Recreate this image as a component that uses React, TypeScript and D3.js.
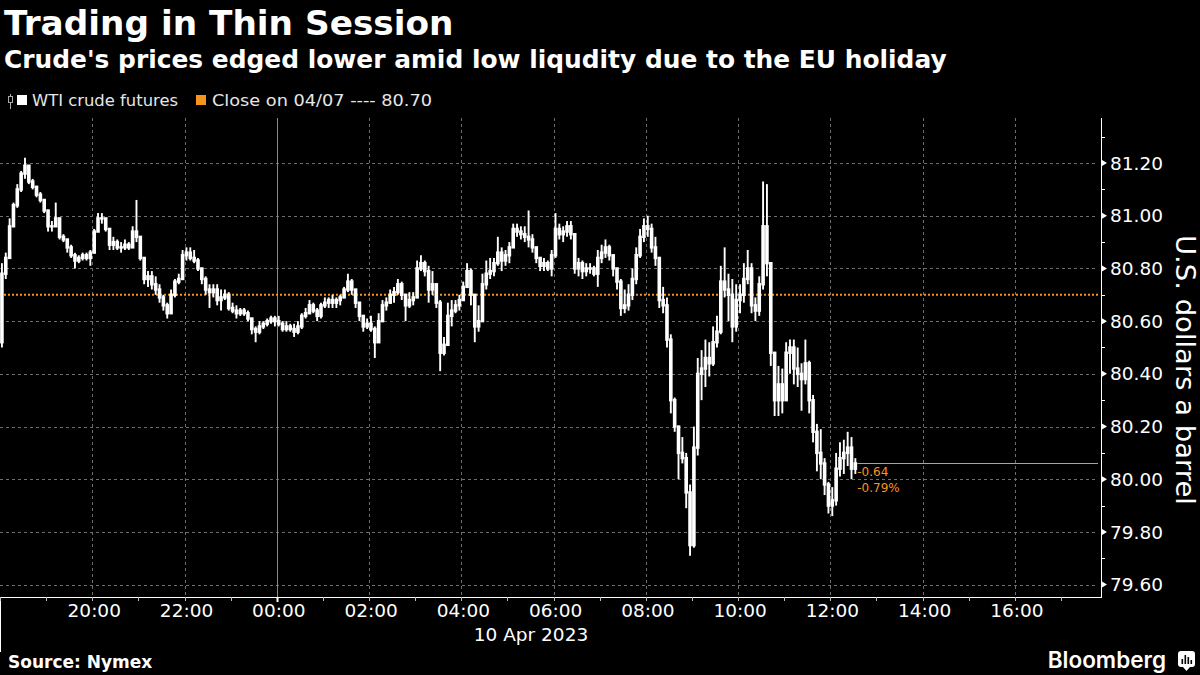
import React from 'react';
import * as d3 from 'd3';

// 5-minute bars of WTI crude futures, starting 9 Apr 2023 18:00
const closes = [
  80.78, 80.84, 80.96, 81.04, 81.10, 81.16, 81.19, 81.13, 81.11, 81.08,
  81.06, 81.02, 80.96, 80.96, 80.99, 80.92, 80.91, 80.88, 80.85, 80.83,
  80.84, 80.85, 80.84, 80.86, 80.94, 80.99, 80.99, 80.95, 80.89, 80.90,
  80.88, 80.88, 80.89, 80.88, 80.94, 80.92, 80.84, 80.76, 80.77, 80.74,
  80.72, 80.69, 80.66, 80.63, 80.70, 80.75, 80.76, 80.85, 80.86, 80.84,
  80.83, 80.80, 80.76, 80.72, 80.71, 80.72, 80.68, 80.69, 80.70, 80.65,
  80.64, 80.63, 80.64, 80.63, 80.61, 80.57, 80.56, 80.58, 80.59, 80.60,
  80.61, 80.60, 80.59, 80.57, 80.58, 80.57, 80.56, 80.58, 80.62, 80.63,
  80.66, 80.64, 80.62, 80.66, 80.67, 80.68, 80.67, 80.68, 80.69, 80.72,
  80.75, 80.72, 80.67, 80.62, 80.58, 80.59, 80.57, 80.52, 80.60, 80.66,
  80.67, 80.70, 80.71, 80.74, 80.70, 80.66, 80.68, 80.69, 80.80, 80.82,
  80.79, 80.72, 80.74, 80.67, 80.48, 80.51, 80.62, 80.64, 80.66, 80.68,
  80.73, 80.79, 80.70, 80.58, 80.60, 80.74, 80.78, 80.79, 80.82, 80.86,
  80.83, 80.85, 80.88, 80.95, 80.94, 80.93, 80.92, 80.91, 80.88, 80.84,
  80.81, 80.82, 80.80, 80.85, 80.95, 80.93, 80.94, 80.96, 80.93, 80.80,
  80.82, 80.79, 80.80, 80.80, 80.78, 80.84, 80.86, 80.88, 80.85, 80.80,
  80.75, 80.65, 80.66, 80.70, 80.76, 80.85, 80.92, 80.96, 80.95, 80.88,
  80.84, 80.68, 80.66, 80.53, 80.30, 80.20, 80.10, 80.08, 79.95, 79.75,
  80.12, 80.40, 80.42, 80.46, 80.44, 80.52, 80.56, 80.75, 80.72, 80.70,
  80.58, 80.68, 80.70, 80.76, 80.80, 80.66, 80.64, 80.74, 80.96, 80.82,
  80.48, 80.30, 80.36, 80.30, 80.48, 80.50, 80.42, 80.40, 80.38, 80.44,
  80.30, 80.18, 80.10, 80.06, 79.98, 79.90, 79.92, 80.04, 80.08, 80.10,
  80.12, 80.04, 80.06,
];

const highs = [
  80.82, 80.86, 80.99, 81.05, 81.12, 81.17, 81.22, 81.19, 81.14, 81.11,
  81.09, 81.06, 81.02, 80.98, 81.05, 80.99, 80.93, 80.91, 80.89, 80.86,
  80.85, 80.86, 80.86, 80.87, 80.95, 81.01, 81.01, 80.99, 80.95, 80.92,
  80.91, 80.90, 80.91, 80.90, 80.96, 81.06, 80.92, 80.84, 80.79, 80.79,
  80.77, 80.74, 80.70, 80.67, 80.72, 80.76, 80.78, 80.87, 80.88, 80.88,
  80.87, 80.84, 80.80, 80.77, 80.74, 80.74, 80.74, 80.72, 80.72, 80.71,
  80.67, 80.66, 80.65, 80.65, 80.64, 80.61, 80.58, 80.60, 80.60, 80.61,
  80.62, 80.62, 80.62, 80.60, 80.60, 80.59, 80.59, 80.60, 80.63, 80.65,
  80.68, 80.67, 80.65, 80.67, 80.69, 80.69, 80.70, 80.69, 80.70, 80.73,
  80.78, 80.76, 80.72, 80.67, 80.62, 80.61, 80.62, 80.58, 80.63, 80.68,
  80.69, 80.72, 80.73, 80.76, 80.75, 80.70, 80.71, 80.71, 80.83, 80.85,
  80.83, 80.81, 80.79, 80.74, 80.68, 80.54, 80.67, 80.68, 80.68, 80.70,
  80.75, 80.82, 80.80, 80.70, 80.66, 80.78, 80.83, 80.84, 80.84, 80.92,
  80.88, 80.87, 80.90, 80.97, 80.97, 80.96, 80.96, 81.02, 80.93, 80.88,
  80.84, 80.84, 80.83, 80.87, 81.01, 80.97, 80.96, 80.98, 80.98, 80.93,
  80.84, 80.83, 80.82, 80.82, 80.81, 80.87, 80.89, 80.91, 80.89, 80.85,
  80.80, 80.76, 80.72, 80.74, 80.80, 80.88, 80.95, 80.99, 81.00, 80.97,
  80.92, 80.84, 80.73, 80.69, 80.55, 80.31, 80.18, 80.16, 80.10, 79.98,
  80.20, 80.46, 80.49, 80.53, 80.52, 80.58, 80.62, 80.81, 80.88, 80.78,
  80.76, 80.74, 80.74, 80.82, 80.87, 80.82, 80.69, 80.77, 81.13, 81.12,
  80.82, 80.48, 80.43, 80.42, 80.52, 80.53, 80.53, 80.50, 80.44, 80.53,
  80.45, 80.32, 80.21, 80.19, 80.08, 79.99, 79.97, 80.10, 80.14, 80.15,
  80.18, 80.16, 80.08,
];

const lows = [
  80.50, 80.76, 80.84, 80.96, 81.03, 81.09, 81.14, 81.12, 81.10, 81.07,
  81.05, 81.01, 80.94, 80.94, 80.96, 80.91, 80.90, 80.86, 80.84, 80.80,
  80.82, 80.83, 80.83, 80.81, 80.86, 80.94, 80.97, 80.94, 80.87, 80.87,
  80.87, 80.86, 80.87, 80.87, 80.88, 80.90, 80.83, 80.74, 80.73, 80.72,
  80.70, 80.67, 80.64, 80.61, 80.63, 80.69, 80.74, 80.76, 80.83, 80.83,
  80.82, 80.79, 80.74, 80.70, 80.65, 80.69, 80.66, 80.64, 80.68, 80.64,
  80.63, 80.61, 80.62, 80.62, 80.60, 80.55, 80.52, 80.55, 80.57, 80.58,
  80.59, 80.58, 80.58, 80.56, 80.56, 80.56, 80.54, 80.55, 80.57, 80.61,
  80.63, 80.63, 80.60, 80.61, 80.65, 80.65, 80.65, 80.65, 80.66, 80.69,
  80.71, 80.70, 80.65, 80.60, 80.56, 80.57, 80.56, 80.46, 80.52, 80.60,
  80.64, 80.67, 80.67, 80.70, 80.68, 80.60, 80.65, 80.66, 80.69, 80.79,
  80.77, 80.67, 80.70, 80.65, 80.41, 80.47, 80.51, 80.58, 80.63, 80.64,
  80.68, 80.73, 80.66, 80.52, 80.56, 80.60, 80.72, 80.76, 80.77, 80.81,
  80.79, 80.81, 80.82, 80.88, 80.92, 80.91, 80.90, 80.88, 80.86, 80.82,
  80.79, 80.79, 80.79, 80.77, 80.84, 80.91, 80.90, 80.92, 80.91, 80.78,
  80.77, 80.76, 80.77, 80.78, 80.77, 80.73, 80.82, 80.84, 80.83, 80.77,
  80.72, 80.62, 80.63, 80.64, 80.68, 80.74, 80.84, 80.90, 80.92, 80.86,
  80.81, 80.65, 80.63, 80.50, 80.25, 80.18, 80.00, 80.06, 79.89, 79.71,
  79.74, 80.09, 80.30, 80.35, 80.39, 80.43, 80.50, 80.55, 80.69, 80.60,
  80.52, 80.56, 80.63, 80.67, 80.74, 80.63, 80.60, 80.62, 80.72, 80.77,
  80.43, 80.24, 80.24, 80.25, 80.30, 80.40, 80.36, 80.35, 80.26, 80.36,
  80.25, 80.14, 80.03, 80.00, 79.94, 79.87, 79.86, 79.90, 80.01, 80.02,
  80.05, 80.00, 80.02,
];

const firstOpen = 80.52;
const previousClose = 80.70;
const yTicks = [79.6, 79.8, 80.0, 80.2, 80.4, 80.6, 80.8, 81.0, 81.2];
const yMinorTicks = [79.7, 79.9, 80.1, 80.3, 80.5, 80.7, 80.9, 81.1, 81.3];
const sessionStart = new Date(2023, 3, 9, 18, 0);
const sessionEnd = new Date(2023, 3, 10, 17, 52);
const barMinutes = 5;
const dateLabel = '10 Apr 2023';
const title = 'Trading in Thin Session';
const subtitle = "Crude's prices edged lower amid low liqudity due to the EU holiday";
const legendSeries = 'WTI crude futures';
const legendClose = 'Close on 04/07 ---- 80.70';
const yAxisTitle = 'U.S. dollars a barrel';
const source = 'Source: Nymex';

const ORANGE = '#f7941d';
const GRID = '#6e6e6e';
const FONT = "'DejaVu Sans', sans-serif";

export default function App() {
  const W = 1200, H = 675;
  const left = 0, right = 1101, top = 118, bottom = 597;
  const x = d3.scaleTime().domain([sessionStart, sessionEnd]).range([left, right]);
  const y = d3.scaleLinear().domain([79.553, 81.371]).range([bottom, top]);

  const hours = d3.timeHour.range(sessionStart, sessionEnd);
  const labeled = hours.filter((h) => h.getHours() % 2 === 0 && +h !== +sessionStart);
  const fmt = d3.timeFormat('%H:%M');

  const bars = closes.map((c, i) => {
    const t0 = d3.timeMinute.offset(sessionStart, i * barMinutes);
    const t1 = d3.timeMinute.offset(sessionStart, (i + 1) * barMinutes);
    const o = i === 0 ? firstOpen : closes[i - 1];
    return { x0: x(t0), x1: x(t1), o, c, h: Math.max(highs[i], o, c), l: Math.min(lows[i], o, c) };
  });

  const last = closes[closes.length - 1];
  const change = last - previousClose;
  const pct = (change / previousClose) * 100;
  const lastX = bars[bars.length - 1].x1;

  return (
    <div style={{ position: 'fixed', left: 0, top: 0, width: W, height: H, background: '#000' }}>
      <svg width={W} height={H} style={{ display: 'block' }}>
        <rect x={0} y={0} width={W} height={H} fill="#000" />
        <text x={4} y={35} fill="#fff" fontFamily={FONT} fontWeight={700} fontSize={34.3}>{title}</text>
        <text x={4} y={68} fill="#fff" fontFamily={FONT} fontWeight={700} fontSize={24.9}>{subtitle}</text>

        {/* legend */}
        <g>
          <line x1={10.5} y1={94} x2={10.5} y2={109} stroke="#aaa" strokeWidth={1} />
          <rect x={8.5} y={96.5} width={4} height={6} fill="#000" stroke="#aaa" strokeWidth={1} />
          <rect x={17} y={95} width={10} height={10} fill="#fff" />
          <text x={32} y={106} fill="#e6e6e6" fontFamily={FONT} fontSize={16} textLength={146} lengthAdjust="spacingAndGlyphs">{legendSeries}</text>
          <rect x={196} y={95} width={10} height={10} fill={ORANGE} />
          <text x={212} y={106} fill="#e6e6e6" fontFamily={FONT} fontSize={16} textLength={220} lengthAdjust="spacingAndGlyphs">{legendClose}</text>
        </g>

        {/* horizontal grid */}
        {yTicks.map((v) => (
          <line key={'g' + v} x1={left} x2={right - 3} y1={Math.round(y(v)) + 0.5} y2={Math.round(y(v)) + 0.5}
            stroke={GRID} strokeWidth={1} strokeDasharray="3,3" />
        ))}
        {/* vertical grid */}
        {labeled.map((h) => {
          const xv = Math.round(x(h)) + 0.5;
          const midnight = h.getHours() === 0;
          return (
            <line key={'v' + +h} x1={xv} x2={xv} y1={top} y2={bottom}
              stroke={midnight ? '#8a8a8a' : GRID} strokeWidth={1}
              strokeDasharray={midnight ? undefined : '3,3'} />
          );
        })}

        {/* previous close dotted line */}
        <line x1={left} x2={right - 3} y1={y(previousClose)} y2={y(previousClose)}
          stroke={ORANGE} strokeWidth={2} strokeDasharray="2,2" />

        {/* bars */}
        <g>
          {bars.map((b, i) => {
            const cx = (b.x0 + b.x1) / 2;
            const yTop = y(Math.max(b.o, b.c));
            const yBot = y(Math.min(b.o, b.c));
            return (
              <g key={i}>
                <line x1={cx} x2={cx} y1={y(b.h)} y2={y(b.l)} stroke="#ffffff" strokeWidth={1.9} />
                <rect x={cx - 1.8} width={3.6} y={yTop - 1.2} height={Math.max(2.5, yBot - yTop + 2.4)} fill="#fff" />
              </g>
            );
          })}
        </g>

        {/* last value marker */}
        <line x1={lastX} x2={right - 3} y1={Math.round(y(last)) + 0.5} y2={Math.round(y(last)) + 0.5} stroke={ORANGE} strokeWidth={1} />
        <text x={lastX} y={476} fill={ORANGE} fontFamily={FONT} fontSize={12}>{change.toFixed(2)}</text>
        <text x={lastX} y={492} fill={ORANGE} fontFamily={FONT} fontSize={12}>{pct.toFixed(2) + '%'}</text>

        {/* right axis */}
        <line x1={right + 0.5} x2={right + 0.5} y1={top} y2={bottom} stroke="#fff" strokeWidth={1} />
        {yMinorTicks.filter((v) => y(v) >= top).map((v) => (
          <line key={'m' + v} x1={right} x2={right + 4} y1={Math.round(y(v)) + 0.5} y2={Math.round(y(v)) + 0.5} stroke="#fff" strokeWidth={1} />
        ))}
        {yTicks.map((v) => {
          const yv = y(v);
          return (
            <g key={'t' + v}>
              <path d={`M${right + 1},${yv - 3} L${right + 6},${yv} L${right + 1},${yv + 3} Z`} fill="#fff" />
              <text x={1110} y={yv} dy="0.36em" fill="#fff" fontFamily={FONT} fontSize={18.5}>{v.toFixed(2)}</text>
            </g>
          );
        })}
        <text transform={`translate(1176,370) rotate(90)`} textAnchor="middle" fill="#fff" fontFamily={FONT} fontSize={26} textLength={270} lengthAdjust="spacingAndGlyphs">{yAxisTitle}</text>

        {/* bottom axis */}
        <line x1={left} x2={right + 1} y1={bottom + 0.5} y2={bottom + 0.5} stroke="#fff" strokeWidth={1} />
        <line x1={0.5} x2={0.5} y1={bottom} y2={652} stroke="#fff" strokeWidth={1} />
        {hours.map((h) => {
          const xv = Math.round(x(h)) + 0.5;
          const midnight = h.getHours() === 0;
          return (
            <line key={'ht' + +h} x1={xv} x2={xv} y1={bottom} y2={bottom + (midnight ? 5 : 4)}
              stroke={midnight ? '#fff' : '#bbb'} strokeWidth={midnight ? 2 : 1} />
          );
        })}
        {labeled.map((h) => (
          <text key={'hl' + +h} x={x(h) + 2} y={617} textAnchor="middle" fill="#fff" fontFamily={FONT} fontSize={18.5}>{fmt(h)}</text>
        ))}
        <text x={531} y={641} textAnchor="middle" fill="#fff" fontFamily={FONT} fontSize={18.5}>{dateLabel}</text>

        {/* footer */}
        <text x={8} y={668} fill="#fff" fontFamily={FONT} fontWeight={700} fontSize={17}>{source}</text>
        <text x={1166} y={668} textAnchor="end" fill="#fff" fontFamily="Inter, Roboto, sans-serif" fontWeight={600} fontSize={22.5}>Bloomberg</text>
        <g>
          <rect x={1178} y={651} width={17} height={16} rx={3} fill="#fff" />
          <path d="M1183,667 L1186.5,671 L1190,667 Z" fill="#fff" />
          <rect x={1181.5} y={659} width={1.6} height={5} fill="#000" />
          <rect x={1184.5} y={655} width={1.6} height={9} fill="#000" />
          <rect x={1187.5} y={657} width={1.6} height={7} fill="#000" />
          <rect x={1190.5} y={660} width={1.6} height={4} fill="#000" />
        </g>
      </svg>
    </div>
  );
}
